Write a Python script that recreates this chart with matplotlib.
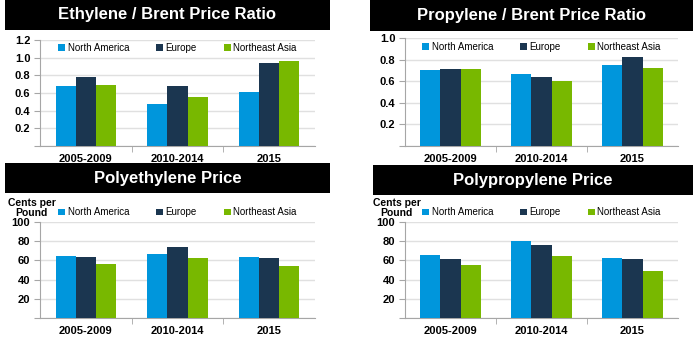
import matplotlib.pyplot as plt
import numpy as np
from matplotlib.patches import Rectangle

plt.rcParams['font.family'] = ['Liberation Sans', 'DejaVu Sans']

periods = ['2005-2009', '2010-2014', '2015']
regions = ['North America', 'Europe', 'Northeast Asia']
colors = ['#0096dc', '#1b3650', '#78b800']

ethylene_ratio = [[0.68, 0.48, 0.61],
                  [0.78, 0.675, 0.94],
                  [0.69, 0.56, 0.965]]
propylene_ratio = [[0.70, 0.665, 0.75],
                   [0.715, 0.64, 0.825],
                   [0.71, 0.605, 0.725]]
pe_price = [[65, 67, 63.5],
            [63.5, 73.5, 62],
            [56, 62, 54]]
pp_price = [[65.5, 80.5, 63],
            [61, 76.5, 61.5],
            [55.5, 65, 48.5]]

W, H = 700, 337
fig = plt.figure(figsize=(7, 3.37), dpi=100)


def box(x0, y0, x1, y1):
    # pixel box (top-left origin) -> figure fraction rect
    return [x0 / W, 1 - y1 / H, (x1 - x0) / W, (y1 - y0) / H]


def title_bar(x0, y0, x1, y1, text):
    fig.patches.append(Rectangle((x0 / W, 1 - y1 / H), (x1 - x0) / W, (y1 - y0) / H,
                                 transform=fig.transFigure, facecolor='black',
                                 edgecolor='none', zorder=0))
    fig.text((x0 + x1) / 2 / W, 1 - (y0 + y1) / 2 / H, text, color='white',
             fontsize=12, fontweight='bold', ha='center', va='center')


def panel(rect, data, ymax, step, fmt, legend_y, unit=False):
    ax = fig.add_axes(box(*rect))
    x = np.arange(len(periods))
    w = 0.22
    for i, reg in enumerate(regions):
        ax.bar(x + (i - 1) * w, data[i], w, color=colors[i], label=reg, zorder=3)
    ax.set_xlim(-0.5, 2.5)
    ax.set_ylim(0, ymax)
    yt = np.arange(step, ymax + step / 2, step)
    ax.set_yticks(np.concatenate([[0], yt]))
    ax.set_yticklabels([''] + [fmt.format(v) for v in yt], fontsize=8, fontweight='bold')
    ax.yaxis.grid(True, color='#e0e0e0', lw=1, zorder=0)
    ax.set_xticks(x)
    ax.set_xticklabels(periods, fontsize=8, fontweight='bold')
    ax.tick_params(axis='x', length=0, pad=6)
    ax.set_xticks([0.5, 1.5], minor=True)
    ax.tick_params(axis='x', which='minor', length=4, color='#a6a6a6')
    ax.tick_params(axis='y', length=4, color='#a6a6a6', pad=3)
    for s in ['top', 'right']:
        ax.spines[s].set_visible(False)
    for s in ['left', 'bottom']:
        ax.spines[s].set_color('#a6a6a6')
    ax.legend(loc='center', bbox_to_anchor=(0.5, legend_y), ncol=3, frameon=False,
              fontsize=7, handlelength=0.7, handleheight=0.7, handletextpad=0.25,
              columnspacing=2.8, borderaxespad=0)
    if unit:
        ax.text(-0.03, 1.15, 'Cents per\nPound', transform=ax.transAxes, fontsize=7.5,
                fontweight='bold', ha='center', va='center', linespacing=1.0)
    return ax


title_bar(5, 0, 330, 30, 'Ethylene / Brent Price Ratio')
title_bar(370, 0, 693, 31, 'Propylene / Brent Price Ratio')
title_bar(5, 163, 330, 193, 'Polyethylene Price')
title_bar(373, 165, 693, 195, 'Polypropylene Price')

panel((40, 40, 315, 146), ethylene_ratio, 1.2, 0.2, '{:.1f}', 0.925)
panel((405, 38, 678, 146), propylene_ratio, 1.0, 0.2, '{:.1f}', 0.917)
panel((40, 222, 315, 318), pe_price, 100, 20, '{:.0f}', 1.1, unit=True)
panel((405, 222, 678, 318), pp_price, 100, 20, '{:.0f}', 1.1, unit=True)

fig.savefig('out.png', dpi=100, facecolor='white')
